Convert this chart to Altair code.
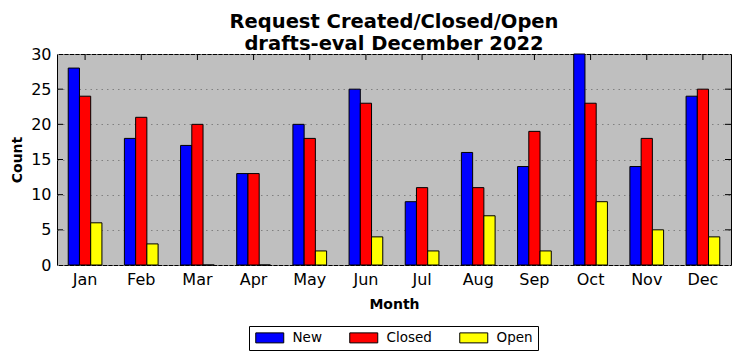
import altair as alt
import pandas as pd

months = ["Jan", "Feb", "Mar", "Apr", "May", "Jun", "Jul", "Aug", "Sep", "Oct", "Nov", "Dec"]
new_counts = [28, 18, 17, 13, 20, 25, 9, 16, 14, 30, 14, 24]
closed_counts = [24, 21, 20, 13, 18, 23, 11, 11, 19, 23, 18, 25]
open_counts = [6, 3, 0, 0, 2, 4, 2, 7, 2, 9, 5, 4]
series = ["New", "Closed", "Open"]
colors = ["#0000ff", "#ff0000", "#ffff00"]
y_ticks = [0, 5, 10, 15, 20, 25, 30]

rows = []
for i, m in enumerate(months):
    for s, vals in zip(series, [new_counts, closed_counts, open_counts]):
        rows.append({"Month": m, "Series": s, "Count": vals[i]})
df = pd.DataFrame(rows)
month_df = pd.DataFrame({"Month": months})
ytick_df = pd.DataFrame({"Count": y_ticks[1:-1]})

W, H = 674, 211
font = "DejaVu Sans"

xscale = alt.Scale(domain=months, paddingInner=0.4, paddingOuter=0.2)
yscale = alt.Scale(domain=[0, 30], nice=False)

xaxis = alt.Axis(title="Month", labelAngle=0, labelFontSize=16, labelColor="black",
                 labelAlign="center", labelFont=font,
                 titleFontSize=14, titleFontWeight="bold", titleColor="black", titleFont=font,
                 ticks=False, domain=False, labelPadding=6, titlePadding=10, grid=False)
yaxis = alt.Axis(title="Count", values=y_ticks, labelFontSize=16, labelColor="black", labelFont=font,
                 titleFontSize=14, titleFontWeight="bold", titleColor="black", titleFont=font,
                 ticks=False, domain=False, labelPadding=6, titlePadding=6,
                 grid=True, gridColor="#808080", gridDash=[1.5, 4], gridWidth=1)

X = alt.X("Month:N", sort=months, scale=xscale, axis=xaxis, bandPosition=0.5)
Y = alt.Y("Count:Q", scale=yscale, axis=yaxis)

bars = alt.Chart(df).mark_bar(stroke="black", strokeWidth=1).encode(
    x=alt.X("Month:N", sort=months, scale=xscale, axis=xaxis),
    xOffset=alt.XOffset("Series:N", sort=series, scale=alt.Scale(domain=series, paddingInner=0, paddingOuter=0)),
    y=Y,
    color=alt.Color("Series:N", sort=series, scale=alt.Scale(domain=series, range=colors),
                    legend=alt.Legend(title=None, orient="none", legendX=192, legendY=272,
                                      direction="horizontal", strokeColor="black", fillColor="white",
                                      padding=5, cornerRadius=0,
                                      symbolType="M-2.8,-1H2.8V1H-2.8Z", symbolSize=100,
                                      symbolOffset=9,
                                      symbolStrokeColor="black", symbolStrokeWidth=1,
                                      symbolOpacity=1,
                                      labelFontSize=13.5, labelColor="black", labelOffset=16,
                                      labelFont=font, columnPadding=25)),
)

top_ticks = alt.Chart(month_df).mark_rule(color="black", strokeWidth=1).encode(
    x=X, y=alt.value(0), y2=alt.value(6))
bot_ticks = alt.Chart(month_df).mark_rule(color="black", strokeWidth=1).encode(
    x=X, y=alt.value(H), y2=alt.value(H - 6))
left_ticks = alt.Chart(ytick_df).mark_rule(color="black", strokeWidth=1).encode(
    y=Y, x=alt.value(0), x2=alt.value(6))
right_ticks = alt.Chart(ytick_df).mark_rule(color="black", strokeWidth=1).encode(
    y=Y, x=alt.value(W), x2=alt.value(W - 6))

chart = alt.layer(top_ticks, bot_ticks, left_ticks, right_ticks, bars).properties(
    width=W, height=H,
    title=alt.Title(["Request Created/Closed/Open", "drafts-eval December 2022"],
                    fontSize=19.5, fontWeight="bold", font=font, color="black",
                    anchor="middle", offset=-8, lineHeight=21.5),
    autosize=alt.AutoSizeParams(type="none"),
    padding={"left": 49, "top": 46, "right": 3, "bottom": 87},
).configure(font=font).configure_view(
    fill="#bfbfbf", stroke="black", strokeWidth=1
)

chart.save("out.html", embed_options={"renderer": "svg", "actions": False})
